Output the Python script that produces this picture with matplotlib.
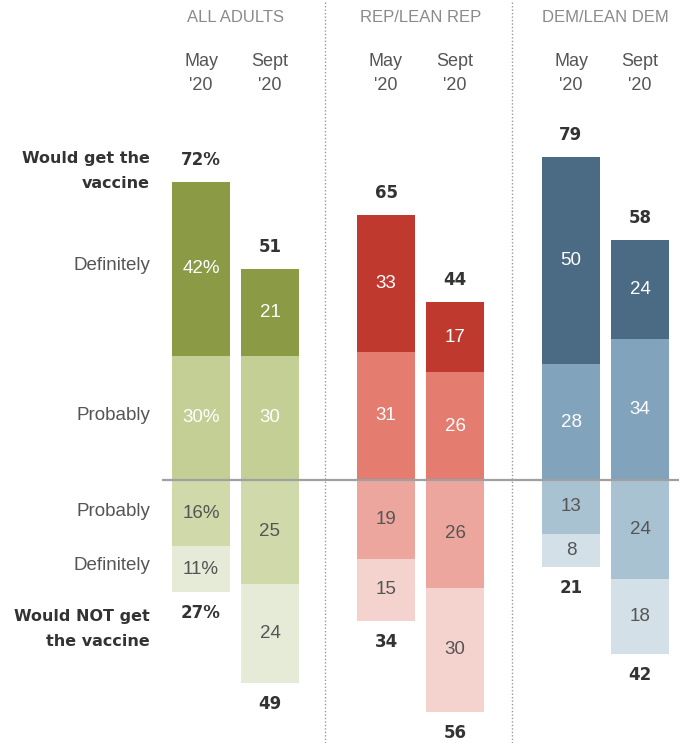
import matplotlib

matplotlib.use("Agg")
import matplotlib.pyplot as plt
import numpy as np

groups = ["ALL ADULTS", "REP/LEAN REP", "DEM/LEAN DEM"]
periods = ["May\n'20", "Sept\n'20"]

def_yes = [42, 21, 33, 17, 50, 24]
prob_yes = [30, 30, 31, 26, 28, 34]
prob_no = [16, 25, 19, 26, 13, 24]
def_no = [11, 24, 15, 30, 8, 18]
total_yes = [72, 51, 65, 44, 79, 58]
total_no = [27, 49, 34, 56, 21, 42]

colors = {
    "def_yes": ["#8a9a45", "#c0392f", "#4b6a84"],
    "prob_yes": ["#c3cf95", "#e47c70", "#82a3bc"],
    "prob_no": ["#cfd9a9", "#eca69d", "#a9c2d2"],
    "def_no": ["#e6ebd7", "#f4d3ce", "#d4e0e8"],
}

REG = ["Liberation Sans", "DejaVu Sans"]
BOLD = ["DejaVu Sans"]
DARK = "#333333"
GRAY = "#555555"

# layout: 1 x-unit = 1 pixel, 1 y-unit = 1 percentage point
px_per_pt = 4.14
zero_px = 480
H = 743
fig = plt.figure(figsize=(6.86, 7.43), dpi=100)
ax = fig.add_axes([0, 0, 1, 1])
ax.set_xlim(0, 686)
ax.set_ylim(-(H - zero_px) / px_per_pt, zero_px / px_per_pt)
ax.axis("off")

centers = []
for g in range(3):
    for p in range(2):
        centers.append(201 + g * 185 + p * 69)
centers = np.array(centers)
width = 58
gi = [i // 2 for i in range(6)]

dy = np.array(def_yes)
py = np.array(prob_yes)
pn = np.array(prob_no)
dn = np.array(def_no)

ax.bar(centers, py, width, color=[colors["prob_yes"][g] for g in gi])
ax.bar(centers, dy, width, bottom=py, color=[colors["def_yes"][g] for g in gi])
ax.bar(centers, -pn, width, color=[colors["prob_no"][g] for g in gi])
ax.bar(centers, -dn, width, bottom=-pn, color=[colors["def_no"][g] for g in gi])

ax.hlines(0, 162, 679, color="#a0a0a0", lw=1.6, zorder=3)
for xs in (325, 512):
    ax.vlines(xs, ax.get_ylim()[0], ax.get_ylim()[1], color="#999999",
              lw=1, linestyles=(0, (1, 1.5)))

fs = 13.5
for i, x in enumerate(centers):
    pct = "%" if i == 0 else ""
    ax.text(x, py[i] + dy[i] / 2, f"{dy[i]}{pct}", ha="center", va="center",
            color="white", fontsize=fs, family=REG)
    ax.text(x, py[i] / 2, f"{py[i]}{pct}", ha="center", va="center",
            color="white", fontsize=fs, family=REG)
    ax.text(x, -pn[i] / 2, f"{pn[i]}{pct}", ha="center", va="center",
            color=GRAY, fontsize=fs, family=REG)
    ax.text(x, -pn[i] - dn[i] / 2, f"{dn[i]}{pct}", ha="center", va="center",
            color=GRAY, fontsize=fs, family=REG)
    ax.text(x, py[i] + dy[i] + 5.4, f"{total_yes[i]}{pct}", ha="center",
            va="center", color=DARK, fontsize=12, fontweight="bold", family=BOLD)
    ax.text(x, -pn[i] - dn[i] - 5.1, f"{total_no[i]}{pct}", ha="center",
            va="center", color=DARK, fontsize=12, fontweight="bold", family=BOLD)

def ypx(p):
    return (zero_px - p) / px_per_pt

for g, name in enumerate(groups):
    ax.text(centers[2 * g] + 34.5, ypx(17), name, ha="center", va="center",
            color="#8a8a8a", fontsize=12, family=REG)
for i, x in enumerate(centers):
    top, bot = periods[i % 2].split("\n")
    ax.text(x, ypx(62), top, ha="center", va="center", color=GRAY,
            fontsize=13, family=REG)
    ax.text(x, ypx(86), bot, ha="center", va="center", color=GRAY,
            fontsize=13, family=REG)

lx = 150
ax.text(lx, ypx(158), "Would get the", ha="right", va="center", color=DARK,
        fontsize=11.5, fontweight="bold", family=BOLD)
ax.text(lx, ypx(183), "vaccine", ha="right", va="center", color=DARK,
        fontsize=11.5, fontweight="bold", family=BOLD)
ax.text(lx, ypx(265), "Definitely", ha="right", va="center", color=GRAY,
        fontsize=fs, family=REG)
ax.text(lx, ypx(415), "Probably", ha="right", va="center", color=GRAY,
        fontsize=fs, family=REG)
ax.text(lx, ypx(512), "Probably", ha="right", va="center", color=GRAY,
        fontsize=fs, family=REG)
ax.text(lx, ypx(566), "Definitely", ha="right", va="center", color=GRAY,
        fontsize=fs, family=REG)
ax.text(lx, ypx(616), "Would NOT get", ha="right", va="center", color=DARK,
        fontsize=11.5, fontweight="bold", family=BOLD)
ax.text(lx, ypx(641), "the vaccine", ha="right", va="center", color=DARK,
        fontsize=11.5, fontweight="bold", family=BOLD)

fig.savefig("out.png", dpi=100)
